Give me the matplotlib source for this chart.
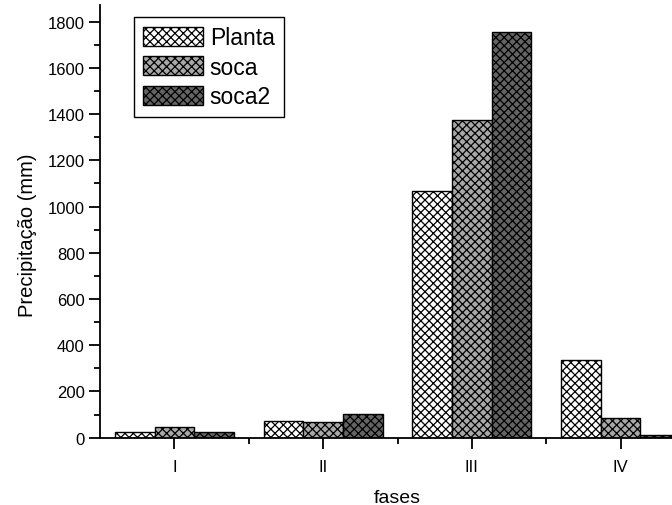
import numpy as np
import matplotlib
matplotlib.use('Agg')
import matplotlib.pyplot as plt
from matplotlib.ticker import MultipleLocator

plt.rcParams['font.family'] = ['Liberation Sans', 'DejaVu Sans']
plt.rcParams['hatch.linewidth'] = 0.9

fases = ['I', 'II', 'III', 'IV']
planta = [25, 74, 1068, 335]
soca = [48, 67, 1376, 84]
soca2 = [25, 101, 1757, 12]

series = [('Planta', planta, 'white'),
          ('soca', soca, '#a8a8a8'),
          ('soca2', soca2, '#646464')]

fig = plt.figure(figsize=(6.72, 5.06), dpi=100)
ax = fig.add_axes([100/672, 1 - 438.7/506, 595/672, 432.7/506])

x = np.arange(1, len(fases) + 1)
w = 0.8 / 3
for i, (name, vals, col) in enumerate(series):
    ax.bar(x + (i - 1) * w, vals, w, color=col, edgecolor='black',
           hatch='xxxx', linewidth=1.0, label=name)

ax.set_xlim(0.5, 4.5)
ax.set_ylim(0, 1872)
ax.set_xticks(x)
ax.set_xticklabels(fases)
ax.xaxis.set_minor_locator(plt.FixedLocator([1.5, 2.5, 3.5]))
ax.yaxis.set_major_locator(MultipleLocator(200))
ax.yaxis.set_minor_locator(MultipleLocator(100))

for s in ['top', 'right']:
    ax.spines[s].set_visible(False)
for s in ['left', 'bottom']:
    ax.spines[s].set_linewidth(1.3)

ax.tick_params(which='major', direction='out', length=8, width=1.3, labelsize=12, pad=3)
ax.tick_params(which='minor', direction='out', length=4, width=1.3)
ax.tick_params(axis='x', which='major', pad=7)

ax.set_ylabel('Precipitação (mm)', fontsize=14.5)
ax.yaxis.set_label_coords(-0.106, 0.47)
ax.set_xlabel('fases', fontsize=14)
ax.xaxis.set_label_coords(0.5, -0.118)

leg = ax.legend(loc='upper left', bbox_to_anchor=(134/672, 1 - 18/506),
                bbox_transform=fig.transFigure, borderaxespad=0,
                fontsize=16.5, handlelength=2.6, handleheight=0.9,
                labelspacing=0.28, handletextpad=0.3, borderpad=0.4,
                fancybox=False, framealpha=1, edgecolor='black')
leg.get_frame().set_linewidth(1.0)

fig.savefig('out.png', dpi=100)
